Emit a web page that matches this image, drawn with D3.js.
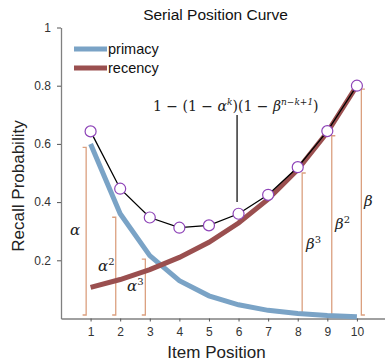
<!DOCTYPE html>
<html><head><meta charset="utf-8">
<script src="https://cdn.jsdelivr.net/npm/d3@7/dist/d3.min.js"></script>
<style>body{margin:0;background:#fff}svg{display:block}</style>
</head><body>
<svg id="c" width="385" height="362"></svg>
<script>
const items = [1,2,3,4,5,6,7,8,9,10];
const primacy = [0.6,0.36,0.216,0.13,0.078,0.047,0.028,0.017,0.01,0.006];
const recency = [0.107,0.134,0.168,0.21,0.262,0.328,0.41,0.512,0.64,0.8];
const combined = [0.643,0.446,0.347,0.312,0.32,0.36,0.425,0.52,0.644,0.8];
const yTicks = [0.2,0.4,0.6,0.8,1];
const alphaBrackets = [{k:1,v:0.6,lab:"α",sup:""},{k:2,v:0.36,lab:"α",sup:"2"},{k:3,v:0.216,lab:"α",sup:"3"}];
const betaBrackets = [{k:8,v:0.512,lab:"β",sup:"3"},{k:9,v:0.64,lab:"β",sup:"2"},{k:10,v:0.8,lab:"β",sup:""}];

const svg = d3.select("#c");
const x = d3.scaleLinear().domain([0,11]).range([61,386.5]);
const y = d3.scaleLinear().domain([0,1]).range([318.5,27.5]);
const sans = "Liberation Sans, Arial, Helvetica, sans-serif";
const serif = "DejaVu Serif, Liberation Serif, serif";
const bc = "#dba07f";

// axes
const gx = svg.append("g").attr("transform",`translate(0,${y(0)})`)
  .call(d3.axisBottom(x).tickValues(items).tickSize(3).tickPadding(6).tickSizeOuter(0));
const gy = svg.append("g").attr("transform",`translate(${x(0)},0)`)
  .call(d3.axisLeft(y).tickValues(yTicks).tickFormat(d=>d===1?"1":d3.format(".1f")(d)).tickSize(4).tickPadding(6).tickSizeOuter(0));
[gx,gy].forEach(g=>{
  g.select(".domain").attr("stroke","#808080").attr("stroke-width",1.3);
  g.selectAll(".tick line").attr("stroke","#555");
  g.selectAll(".tick text").attr("fill","#333").attr("font-size",12).attr("font-family",sans);
});

// brackets
const cap = 0.12, off = 0.15, pad = 0.012;
alphaBrackets.forEach(b=>{
  const bx = x(b.k-off), c = x(b.k-off-cap);
  svg.append("path").attr("fill","none").attr("stroke",bc).attr("stroke-width",1.3)
    .attr("d",`M${c},${y(b.v-pad)}H${bx}V${y(pad)}H${c}`);
});
betaBrackets.forEach(b=>{
  const bx = x(b.k+off), c = x(b.k+off+cap);
  svg.append("path").attr("fill","none").attr("stroke",bc).attr("stroke-width",1.3)
    .attr("d",`M${c},${y(b.v-pad)}H${bx}V${y(pad)}H${c}`);
});

// lines
const line = d3.line().x((d,i)=>x(items[i])).y(d=>y(d));
svg.append("path").datum(primacy).attr("d",line).attr("fill","none").attr("stroke","#7aa3c6").attr("stroke-width",5);
svg.append("path").datum(recency).attr("d",line).attr("fill","none").attr("stroke","#9a4f4f").attr("stroke-width",5);
svg.append("path").datum(combined).attr("d",line).attr("fill","none").attr("stroke","#000").attr("stroke-width",1.3);
svg.selectAll("circle.pt").data(combined).join("circle").attr("class","pt")
  .attr("cx",(d,i)=>x(items[i])).attr("cy",d=>y(d)).attr("r",5.5)
  .attr("fill","#fff").attr("stroke","#8e44b8").attr("stroke-width",1.2);

// bracket labels
function greek(px,py,lab,sup){
  const t = svg.append("text").attr("x",px).attr("y",py).attr("font-family",serif)
    .attr("font-style","italic").attr("font-size",15).attr("fill","#222");
  t.append("tspan").text(lab);
  if(sup) t.append("tspan").attr("dy",-6).attr("font-size",10).attr("font-style","normal").text(sup);
}
greek(70,235,"α","");
greek(98,271,"α","2");
greek(127,291,"α","3");
greek(306,249,"β","3");
greek(335,229,"β","2");
greek(364,206,"β","");

// formula + leader
svg.append("line").attr("x1",x(5.95)).attr("x2",x(5.95)).attr("y1",115).attr("y2",202)
  .attr("stroke","#000").attr("stroke-width",1.2);
const f = svg.append("text").attr("x",153).attr("y",111).attr("font-family",serif).attr("font-size",14).attr("fill","#222");
f.append("tspan").text("1 − (1 − ");
f.append("tspan").attr("font-style","italic").text("α");
f.append("tspan").attr("dy",-6).attr("font-size",9).attr("font-style","italic").text("k");
f.append("tspan").attr("dy",6).text(")(1 − ");
f.append("tspan").attr("font-style","italic").text("β");
f.append("tspan").attr("dy",-6).attr("font-size",9).attr("font-style","italic").text("n−k+1");
f.append("tspan").attr("dy",6).text(")");

// legend
const leg = [{n:"primacy",c:"#7aa3c6",yy:49},{n:"recency",c:"#9a4f4f",yy:68}];
leg.forEach(l=>{
  svg.append("line").attr("x1",74).attr("x2",107).attr("y1",l.yy).attr("y2",l.yy).attr("stroke",l.c).attr("stroke-width",5);
  svg.append("text").attr("x",108).attr("y",l.yy+5).attr("font-family",sans).attr("font-size",14.5).attr("fill","#111").text(l.n);
});

// title and labels
svg.append("text").attr("x",215.5).attr("y",20).attr("text-anchor","middle").attr("font-family",sans).attr("font-size",15.5).attr("fill","#111").text("Serial Position Curve");
svg.append("text").attr("x",216.5).attr("y",357.5).attr("text-anchor","middle").attr("font-family",sans).attr("font-size",17).attr("fill","#222").text("Item Position");
svg.append("text").attr("transform","translate(24,186) rotate(-90)").attr("text-anchor","middle").attr("font-family",sans).attr("font-size",17).attr("fill","#222").text("Recall Probability");
</script>
</body></html>
